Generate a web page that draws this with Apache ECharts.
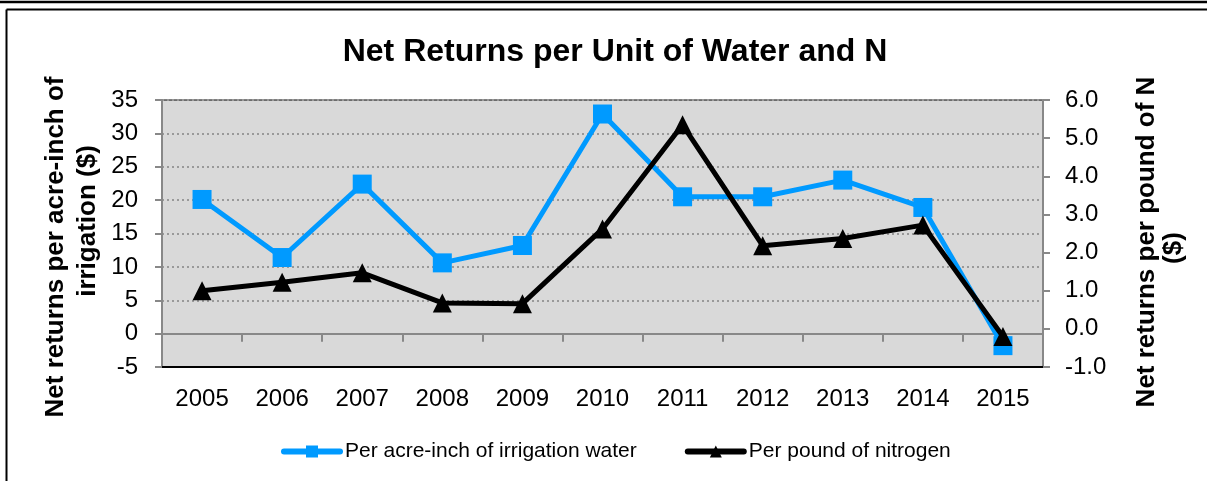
<!DOCTYPE html>
<html>
<head>
<meta charset="utf-8">
<script src="https://cdn.jsdelivr.net/npm/echarts@6/dist/echarts.min.js"></script>
<style>
  html, body { margin: 0; padding: 0; background: #fff; }
  #chart { width: 1207px; height: 481px; }
</style>
</head>
<body>
<div id="chart"></div>
<script>
// data
var years = ['2005', '2006', '2007', '2008', '2009', '2010', '2011', '2012', '2013', '2014', '2015'];
var perAcreInch = [20.1, 11.4, 22.4, 10.6, 13.2, 32.9, 20.5, 20.5, 23.0, 18.9, -1.8];
var perPoundN = [1.0, 1.22, 1.47, 0.68, 0.66, 2.62, 5.35, 2.18, 2.37, 2.72, -0.2];

var font = 'Liberation Sans, Arial, sans-serif';
var nameStyle = { font: 'bold 26px Liberation Sans, Arial, sans-serif', fill: '#000', textAlign: 'center', textVerticalAlign: 'middle' };
var chart = echarts.init(document.getElementById('chart'));

chart.setOption({
  animation: false,
  backgroundColor: '#fff',
  title: {
    text: 'Net Returns per Unit of Water and N',
    left: 610,
    textAlign: 'center',
    top: 31,
    textStyle: { fontFamily: font, fontSize: 32, fontWeight: 'bold', color: '#000' }
  },
  legend: {
    left: 276,
    top: 436,
    itemWidth: 56,
    itemHeight: 15,
    itemGap: 48,
    lineStyle: { width: 6, cap: 'round' },
    textStyle: { fontFamily: font, fontSize: 21, color: '#000' },
    data: ['Per acre-inch of irrigation water', 'Per pound of nitrogen']
  },
  grid: {
    left: 162, right: 164, top: 100, bottom: 114,
    show: true,
    backgroundColor: '#d9d9d9',
    borderColor: '#000',
    borderWidth: 1
  },
  xAxis: [
    {
      type: 'category',
      data: years,
      position: 'bottom',
      axisLine: { onZero: false, lineStyle: { color: '#000', width: 2 } },
      axisTick: { show: false },
      axisLabel: { margin: 20, fontFamily: font, fontSize: 24, color: '#000' },
      splitLine: { show: false }
    },
    {
      type: 'category',
      data: years,
      position: 'top',
      axisLine: { onZero: true, onZeroAxisIndex: 0, lineStyle: { color: '#888', width: 2 } },
      axisTick: { show: true, inside: true, length: 8, lineStyle: { color: '#888', width: 2 } },
      axisLabel: { show: false },
      splitLine: { show: false }
    }
  ],
  yAxis: [
    {
      type: 'value',
      min: -5, max: 35, interval: 5,
      position: 'left',
      axisLine: { show: true, lineStyle: { color: '#888', width: 2 } },
      axisTick: { show: true, length: 7, lineStyle: { color: '#888', width: 2 } },
      axisLabel: { margin: 24, fontFamily: font, fontSize: 24, color: '#000' },
      splitLine: { show: true, lineStyle: { color: '#999', width: 2, type: [2, 3] } }
    },
    {
      type: 'value',
      min: -1, max: 6, interval: 1,
      position: 'right',
      axisLine: { show: true, lineStyle: { color: '#888', width: 2 } },
      axisTick: { show: true, length: 7, lineStyle: { color: '#888', width: 2 } },
      axisLabel: {
        margin: 22, fontFamily: font, fontSize: 24, color: '#000',
        formatter: function (v) { return v.toFixed(1); }
      },
      splitLine: { show: false }
    }
  ],
  series: [
    {
      name: 'Per acre-inch of irrigation water',
      type: 'line',
      xAxisIndex: 0,
      yAxisIndex: 0,
      data: perAcreInch,
      symbol: 'rect',
      symbolSize: 19,
      lineStyle: { color: '#009aff', width: 5 },
      itemStyle: { color: '#009aff' },
      z: 3
    },
    {
      name: 'Per pound of nitrogen',
      type: 'line',
      xAxisIndex: 0,
      yAxisIndex: 1,
      data: perPoundN,
      symbol: 'triangle',
      symbolSize: 19,
      lineStyle: { color: '#000', width: 5 },
      itemStyle: { color: '#000' },
      z: 4
    }
  ],
  graphic: [
    // page frame
    { type: 'line', shape: { x1: 0, y1: 2, x2: 1207, y2: 2 }, style: { stroke: '#000', lineWidth: 2.5 } },
    { type: 'line', shape: { x1: 6.5, y1: 9.5, x2: 1207, y2: 9.5 }, style: { stroke: '#000', lineWidth: 2 } },
    { type: 'line', shape: { x1: 6.5, y1: 9.5, x2: 6.5, y2: 481 }, style: { stroke: '#000', lineWidth: 2 } },
    // axis titles
    { type: 'text', x: 56, y: 247, rotation: Math.PI / 2, style: Object.assign({ text: 'Net returns per acre-inch of' }, nameStyle) },
    { type: 'text', x: 88, y: 221, rotation: Math.PI / 2, style: Object.assign({ text: 'irrigation ($)' }, nameStyle) },
    { type: 'text', x: 1147, y: 242, rotation: Math.PI / 2, style: Object.assign({ text: 'Net returns per pound of N' }, nameStyle) },
    { type: 'text', x: 1174, y: 248, rotation: Math.PI / 2, style: Object.assign({ text: '($)' }, nameStyle) }
  ]
});
</script>
</body>
</html>
